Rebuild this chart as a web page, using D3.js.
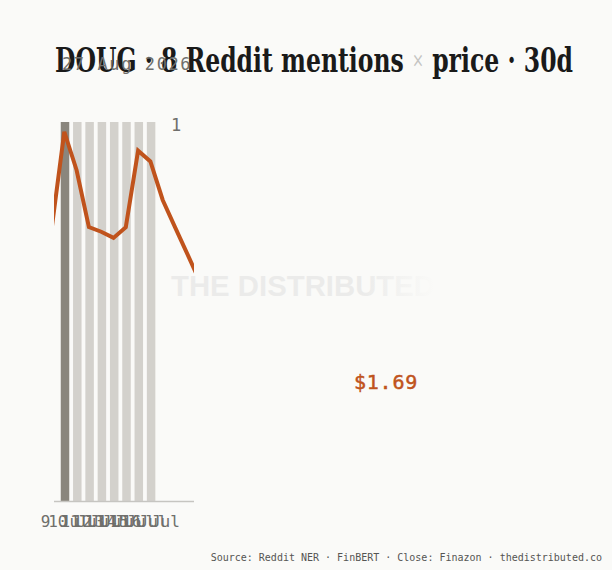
<!DOCTYPE html>
<html>
<head>
<meta charset="utf-8">
<script src="https://cdn.jsdelivr.net/npm/d3@7"></script>
<style>
  body { margin: 0; background: #fafaf8; }
  svg { display: block; }
</style>
</head>
<body>
<div id="content"></div>
<script>
// ******* DATA *******
const ticker = "DOUG";
const mentionTotal = 8;
const asOfLabel = "27 Aug 2026";

// daily mention counts (one per day)
const mentionDates = ["2026-07-09", "2026-07-10", "2026-07-11", "2026-07-12",
                      "2026-07-13", "2026-07-14", "2026-07-15", "2026-07-16"];
const mentionCounts = [1, 1, 1, 1, 1, 1, 1, 1];

// daily close
const priceDates = ["2026-07-08", "2026-07-09", "2026-07-10", "2026-07-11", "2026-07-12",
                    "2026-07-13", "2026-07-14", "2026-07-15", "2026-07-16", "2026-07-17",
                    "2026-07-18", "2026-07-19", "2026-07-20"];
const priceClose = [1.797, 1.981, 1.906, 1.795, 1.786, 1.774, 1.795, 1.944, 1.923, 1.848, 1.795, 1.743, 1.69];

const sourceNote = "Source: Reddit NER · FinBERT · Close: Finazon · thedistributed.co";

// ******* SETUP *******
const W = 612, H = 570;
const margin = { left: 54, top: 122, right: 418, bottom: 69 };
const plotW = W - margin.left - margin.right;   // 140
const plotH = H - margin.top - margin.bottom;    // 379

const parse = d3.timeParse("%Y-%m-%d");
const mentions = mentionDates.map((d, i) => ({ date: parse(d), n: mentionCounts[i] }));
const prices = priceDates.map((d, i) => ({ date: parse(d), p: priceClose[i] }));

const svg = d3.select("#content").append("svg")
    .attr("width", W)
    .attr("height", H);

const defs = svg.append("defs");
defs.append("clipPath").attr("id", "plot-clip")
    .append("rect")
    .attr("x", 0).attr("y", -60)
    .attr("width", plotW).attr("height", plotH + 120);

const fade = defs.append("linearGradient").attr("id", "wm-fade")
    .attr("x1", "0").attr("x2", "1").attr("y1", "0").attr("y2", "0");
fade.append("stop").attr("offset", "0.72").attr("stop-color", "#ebebea").attr("stop-opacity", 1);
fade.append("stop").attr("offset", "1").attr("stop-color", "#ebebea").attr("stop-opacity", 0);

// watermark sits behind everything
svg.append("text")
    .attr("x", 171).attr("y", 296)
    .attr("font-family", "'Liberation Sans', Arial, sans-serif")
    .attr("font-weight", 700)
    .attr("font-size", 30)
    .attr("textLength", 264)
    .attr("lengthAdjust", "spacingAndGlyphs")
    .attr("fill", "url(#wm-fade)")
    .text("THE DISTRIBUTED");

const g = svg.append("g").attr("transform", `translate(${margin.left},${margin.top})`);

// scales: one day = ~12.3px, the series runs past the plot edge and gets clipped
const x = d3.scaleTime()
    .domain([parse("2026-07-08"), parse("2026-07-20")])
    .range([-2, 145.6]);
const yBar = d3.scaleLinear().domain([0, d3.max(mentionCounts)]).range([plotH, 0]);
const yPrice = d3.scaleLinear().domain([1.261, 2.0]).range([plotH, 0]);

const barW = 8.5;

// bars
g.append("g").selectAll("rect")
    .data(mentions)
    .join("rect")
    .attr("x", d => x(d.date) - barW / 2 + 0.7)
    .attr("y", d => yBar(d.n))
    .attr("width", barW)
    .attr("height", d => plotH - yBar(d.n))
    .attr("fill", (d, i) => i === 0 ? "#8a867d" : "#d3d1cc");

// baseline
g.append("line")
    .attr("x1", 0).attr("x2", plotW)
    .attr("y1", plotH + 0.5).attr("y2", plotH + 0.5)
    .attr("stroke", "#c6c5c1")
    .attr("stroke-width", 1.5);

// x axis labels
const xAxis = d3.axisBottom(x)
    .tickValues(mentions.map(d => d.date))
    .tickFormat(d3.timeFormat("%-d %b"))
    .tickSize(0)
    .tickPadding(15);
const xg = g.append("g").attr("transform", `translate(0,${plotH})`).call(xAxis);
xg.select(".domain").remove();
xg.selectAll("text")
    .attr("font-family", "'DejaVu Sans Mono', monospace")
    .attr("font-size", 16)
    .attr("fill", "#6f6f6c");

// bar max label
g.append("text")
    .attr("x", plotW - 18).attr("y", yBar(d3.max(mentionCounts)) + 9)
    .attr("text-anchor", "middle")
    .attr("font-family", "'DejaVu Sans Mono', monospace")
    .attr("font-size", 17)
    .attr("fill", "#6f6f6c")
    .text(d3.max(mentionCounts));

// price line
const line = d3.line()
    .x(d => x(d.date))
    .y(d => yPrice(d.p));
g.append("path")
    .datum(prices)
    .attr("clip-path", "url(#plot-clip)")
    .attr("d", line)
    .attr("fill", "none")
    .attr("stroke", "#c0531c")
    .attr("stroke-width", 4)
    .attr("stroke-linejoin", "miter");

// last price label
svg.append("text")
    .attr("x", 386).attr("y", 389)
    .attr("text-anchor", "middle")
    .attr("font-family", "'DejaVu Sans Mono', monospace")
    .attr("font-size", 20)
    .attr("letter-spacing", 0.8)
    .attr("fill", "#c0531c")
    .attr("stroke", "#c0531c")
    .attr("stroke-width", 0.5)
    .text("$" + d3.format(".2f")(prices[prices.length - 1].p));

// title
const title = svg.append("text")
    .attr("x", 55).attr("y", 72)
    .attr("font-family", "'DejaVu Serif', serif")
    .attr("font-stretch", "condensed")
    .attr("font-weight", 700)
    .attr("font-size", 33)
    .attr("fill", "#1a1a1a")
    .attr("textLength", 518)
    .attr("lengthAdjust", "spacingAndGlyphs");
title.append("tspan").text(`${ticker} · ${mentionTotal} Reddit mentions `);
title.append("tspan").attr("fill", "#c4c4c2").attr("font-weight", 400).attr("font-size", 20)
    .attr("dy", -5).text("×");
title.append("tspan").attr("dy", 5).text(" price · 30d");

// date stamp (overlaps the title)
svg.append("text")
    .attr("x", 62).attr("y", 70)
    .attr("font-family", "'DejaVu Sans Mono', monospace")
    .attr("font-size", 17)
    .attr("letter-spacing", 1.6)
    .attr("fill", "#6f6f6c")
    .text(asOfLabel);

// footer
svg.append("text")
    .attr("x", 602).attr("y", 561)
    .attr("text-anchor", "end")
    .attr("font-family", "'DejaVu Sans Mono', monospace")
    .attr("font-size", 10)
    .attr("fill", "#555553")
    .text(sourceNote);
</script>
</body>
</html>
